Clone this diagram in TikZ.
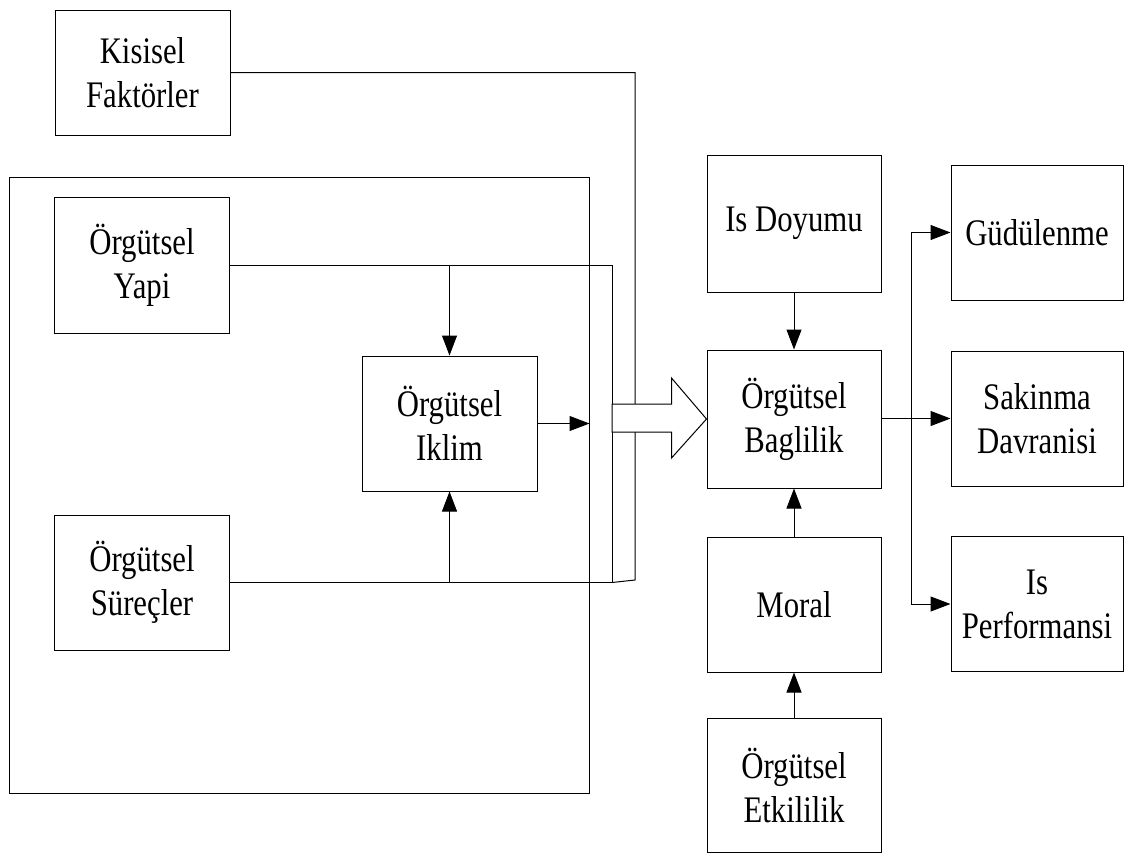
\documentclass[tikz,border=0pt]{standalone}
\usepackage{fontspec}
\setmainfont{Liberation Serif}[FakeStretch=0.82]
\usetikzlibrary{arrows.meta,calc}
\begin{document}
\begin{tikzpicture}[x=1pt,y=-1pt,
  every path/.style={line width=1pt},
  box/.style={draw,line width=1pt,inner sep=0pt,align=center,
    minimum width=175pt,minimum height=135pt,
    font=\fontsize{37.5}{44}\selectfont},
  arr/.style={-{Triangle[length=20pt,width=15pt]}},
  link/.style={line width=1pt}]
\useasboundingbox (0,0) rectangle (1131,857);

% outer frame around the organisational factors
\node[draw,line width=1pt,minimum width=580pt,minimum height=616pt,inner sep=0pt] (frame) at (299,485) {};

% left column
\node[box,minimum height=125pt] (kisisel) at (142.5,72.5) {Kisisel\\Faktörler};
\node[box,minimum height=136pt] (yapi) at (142,265) {Örgütsel\\Yapi};
\node[box] (surec) at (142,582.5) {Örgütsel\\Süreçler};
\node[box] (iklim) at (449.5,423.5) {Örgütsel\\Iklim};

% centre column
\node[box,minimum width=174pt,minimum height=137pt] (doyum) at (794,223.5) {Is Doyumu};
\node[box,minimum width=174pt,minimum height=138pt] (bag) at (794,419) {Örgütsel\\Baglilik};
\node[box,minimum width=174pt] (moral) at (794,604.5) {Moral};
\node[box,minimum width=174pt,minimum height=134pt] (etki) at (794,785) {Örgütsel\\Etkililik};

% right column
\node[box,minimum width=172pt] (gud) at (1037,232.5) {Güdülenme};
\node[box,minimum width=172pt] (sak) at (1037,418.5) {Sakinma\\Davranisi};
\node[box,minimum width=172pt] (perf) at (1037,604) {Is\\Performansi};

% collecting lines
\coordinate (busTop) at (612,265);
\coordinate (busBot) at (612,582.5);
\coordinate (kTop) at (635,72.5);
\coordinate (kBot) at (635,580);

\draw[link] (kisisel.east) -- (kTop) -- (kBot) -- (busBot);
\draw[link] (yapi.east) -- (busTop) -- (busBot);
\draw[link] (surec.east) -- (busBot);
\draw[arr] (iklim.north |- yapi.east) -- (iklim.north);
\draw[arr] (iklim.south |- surec.east) -- (iklim.south);
\draw[arr] (iklim.east) -- (frame.east |- iklim.east);

% hollow block arrow into commitment
\draw[line width=1pt,fill=white]
  (612,404) -- ($(bag.west)+(-35,-15)$) -- ($(bag.west)+(-35,-41)$)
  -- (bag.west) -- ($(bag.west)+(-35,39)$) -- ($(bag.west)+(-35,13)$)
  -- (612,432) -- cycle;

% inputs to commitment
\draw[arr] (doyum.south) -- (bag.north);
\draw[arr] (moral.north) -- (bag.south);
\draw[arr] (etki.north) -- (moral.south);

% outputs
\coordinate (fork) at (911,418);
\draw[link] (bag.east |- fork) -- (fork);
\draw[link] (fork |- gud.west) -- (fork |- perf.west);
\draw[arr] (fork |- gud.west) -- (gud.west);
\draw[arr] (fork |- sak.west) -- (sak.west);
\draw[arr] (fork |- perf.west) -- (perf.west);
\end{tikzpicture}
\end{document}
